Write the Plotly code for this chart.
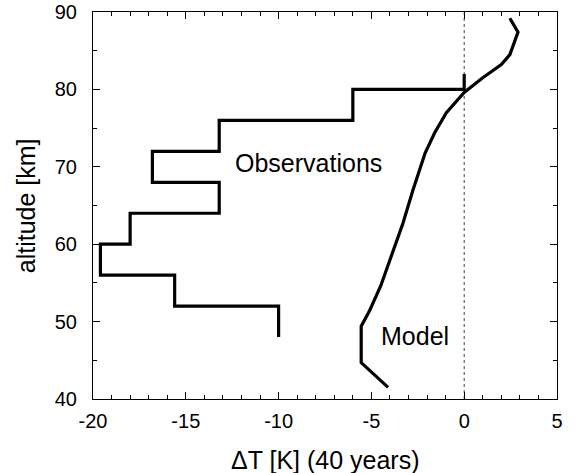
import plotly.graph_objects as go

# Observations (step profile)
obs_dT = [-10, -10, -15.6, -15.6, -19.6, -19.6, -18, -18, -13.2, -13.2, -16.8, -16.8,
          -13.2, -13.2, -6, -6, 0, 0]
obs_alt = [48, 52, 52, 56, 56, 60, 60, 64, 64, 68, 68, 72, 72, 76, 76, 80, 80, 82]

# Model profile
model_dT = [-4.1, -5.55, -5.55, -5.1, -4.5, -3.93, -3.3, -2.76, -2.1, -1.59, -0.96, 0.0,
            1.0, 2.0, 2.46, 2.9, 2.46]
model_alt = [41.5, 44.7, 49.4, 51.4, 54.6, 58.4, 62.7, 67.0, 71.8, 74.4, 77.0, 79.6,
             81.5, 83.2, 84.5, 87.4, 89.2]

x_range = [-20, 5]
y_range = [40, 90]
x_ticks = [-20, -15, -10, -5, 0, 5]
x_ticktext = ["-20", "-15", "-10", "-5", "0", "5"]
y_ticks = [40, 50, 60, 70, 80, 90]
y_ticktext = ["40", "50", "60", "70", "80", "90"]

font = "Liberation Sans, Arial, sans-serif"

fig = go.Figure()
fig.add_trace(go.Scatter(x=[0, 0], y=y_range, mode="lines",
                         line=dict(color="#444444", width=1, dash="3px,3px"),
                         showlegend=False, hoverinfo="skip"))
fig.add_trace(go.Scatter(x=obs_dT, y=obs_alt, mode="lines",
                         line=dict(color="black", width=3.2), showlegend=False))
fig.add_trace(go.Scatter(x=model_dT, y=model_alt, mode="lines",
                         line=dict(color="black", width=3.2), showlegend=False))

fig.add_annotation(x=-8.4, y=70.5, text="Observations", showarrow=False,
                   font=dict(family=font, size=25, color="black"))
fig.add_annotation(x=-2.65, y=48.1, text="Model", showarrow=False,
                   font=dict(family=font, size=25, color="black"))

# axis titles placed as annotations in paper coordinates
fig.add_annotation(x=0.5, y=-0.158, xref="paper", yref="paper", text="ΔT [K] (40 years)",
                   showarrow=False, font=dict(family=font, size=25, color="black"),
                   xanchor="center", yanchor="middle")
fig.add_annotation(x=-0.145, y=0.5, xref="paper", yref="paper", text="altitude [km]",
                   showarrow=False, textangle=-90, font=dict(family=font, size=25, color="black"),
                   xanchor="center", yanchor="middle")

axis_common = dict(showgrid=False, zeroline=False, showline=True, linecolor="black",
                   linewidth=1, mirror="allticks", ticks="inside", ticklen=7,
                   tickcolor="black", tickwidth=1, automargin=False,
                   tickfont=dict(family=font, size=20, color="black"))

fig.update_xaxes(range=x_range, tickvals=x_ticks, ticktext=x_ticktext,
                 minor=dict(dtick=1, ticks="inside", ticklen=4, tickcolor="black", showgrid=False),
                 ticklabelstandoff=4,
                 **axis_common)
fig.update_yaxes(range=y_range, tickvals=y_ticks, ticktext=y_ticktext,
                 minor=dict(dtick=5, ticks="inside", ticklen=4, tickcolor="black", showgrid=False),
                 ticklabelstandoff=11,
                 **axis_common)

fig.update_layout(width=578, height=473, margin=dict(l=93, r=21, t=12, b=74),
                  plot_bgcolor="white", paper_bgcolor="white", showlegend=False)

fig.write_html("out.html", config={"displayModeBar": False},
               post_script="document.body.style.margin='0';document.body.style.overflow='hidden';")
